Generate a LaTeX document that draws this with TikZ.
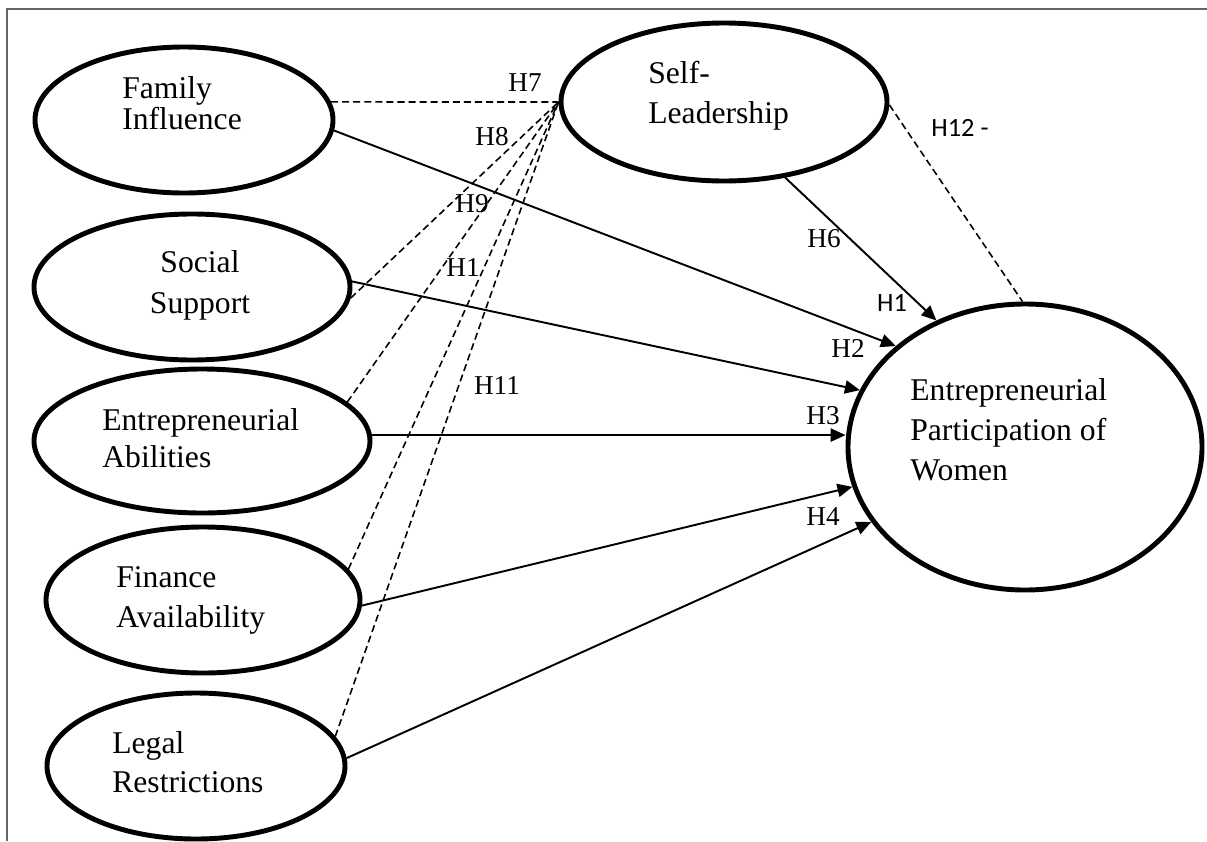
\documentclass[tikz,border=0pt]{standalone}
\usepackage{fontspec}
\setmainfont{Liberation Serif}
\newfontfamily\hypsansfont{Carlito}
\usetikzlibrary{shapes.geometric, arrows.meta, positioning}

\tikzset{
	construct/.style={draw, ellipse, line width=2.8pt, inner sep=0pt},
	ctext/.style={inner sep=0pt, anchor=west, align=left, font=\rmfamily\fontsize{18}{22.8}\selectfont},
	hyp/.style={inner sep=0pt, font=\rmfamily\fontsize{15.5}{18}\selectfont},
	hypsans/.style={inner sep=0pt, font=\hypsansfont\fontsize{15}{18}\selectfont},
	direct/.style={line width=1.1pt, -{Triangle[length=8.5pt, width=7.5pt]}},
	indirect/.style={line width=0.9pt, dash pattern=on 4pt off 2.3pt}
}

\begin{document}
\begin{tikzpicture}[x=0.2mm, y=-0.2mm]
		\useasboundingbox (0,0) rectangle (1207,841);

		% Frame (top and left edge only)
		\draw[line width=1pt, black!60] (1207,9) -- (7,9) -- (7,841);

		% Constructs
		\node[construct, minimum width=5.96cm, minimum height=2.92cm] (fam) at (184,120) {};
		\node[construct, minimum width=6.32cm, minimum height=2.92cm] (soc) at (192,287) {};
		\node[construct, minimum width=6.72cm, minimum height=2.88cm] (abil) at (202,441) {};
		\node[construct, minimum width=6.28cm, minimum height=2.92cm] (fin) at (203,600) {};
		\node[construct, minimum width=5.96cm, minimum height=2.92cm] (leg) at (196,766) {};
		\node[construct, minimum width=6.52cm, minimum height=3.16cm] (self) at (724,102) {};
		\node[construct, minimum width=7.08cm, minimum height=5.72cm] (ewp) at (1025,447) {};

		% Construct names
		\node[ctext, font=\rmfamily\fontsize{18}{15.9}\selectfont] (famtxt) at (122,103) {Family\\Influence};
		\node[ctext, anchor=center, align=center, font=\rmfamily\fontsize{18}{23.3}\selectfont] (soctxt) at (200,285) {Social\\Support};
		\node[ctext, font=\rmfamily\fontsize{18}{21}\selectfont] (abiltxt) at (102,438) {Entrepreneurial\\Abilities};
		\node[ctext] (fintxt) at (116,600) {Finance\\Availability};
		\node[ctext, font=\rmfamily\fontsize{18}{22.2}\selectfont] (legtxt) at (112,762) {Legal\\Restrictions};
		\node[ctext] (selftxt) at (648,96) {Self-\\Leadership};
		\node[ctext] (ewptxt) at (910,430) {Entrepreneurial\\Participation of\\Women};

		% Mediation paths via self-leadership
		\draw[indirect] (fam.7) -- (self.west);
		\draw[indirect] (soc.-4) -- (self.west);
		\draw[indirect] (abil.15) -- (self.west);
		\draw[indirect] (fin.12) -- (self.west);
		\draw[indirect] (leg.12) -- (self.west);
		\draw[indirect] (self.-1) -- (ewp.91);

		% Direct paths
		\draw[direct] (fam.-4) -- (ewp.142);
		\draw[direct] (soc.2) -- (ewp.161);
		\draw[direct] (abil.2) -- (abil.2 -| ewp.west);
		\draw[direct] (fin.-2) -- (ewp.193);
		\draw[direct] (leg.3) -- (ewp.206);
		\draw[direct] (self.-51) -- (ewp.125);

		% Hypothesis labels
		\node[hyp] (h7) at (525,83) {H7};
		\node[hyp] (h8) at (492,137) {H8};
		\node[hyp] (h9) at (472,204) {H9};
		\node[hyp] (h10) at (463,268) {H1};
		\node[hyp] (h11) at (497,386) {H11};
		\node[hypsans] (h12) at (960,128) {H12 -};
		\node[hyp] (h6) at (824,239) {H6};
		\node[hypsans] (h1) at (892,303) {H1};
		\node[hyp] (h2) at (848,348) {H2};
		\node[hyp] (h3) at (823,416) {H3};
		\node[hyp] (h4) at (823,517) {H4};

	\end{tikzpicture}
\end{document}
